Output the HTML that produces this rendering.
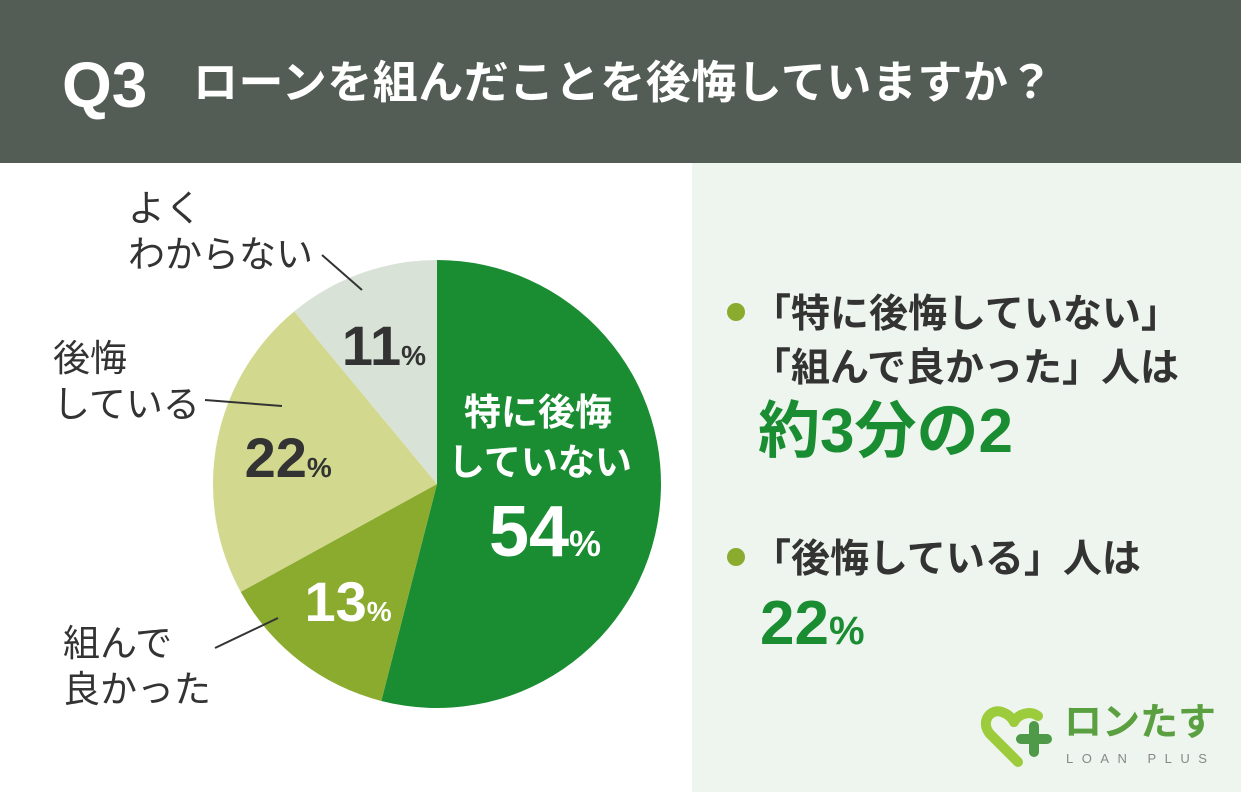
<!DOCTYPE html>
<html><head><meta charset="utf-8">
<style>
body{margin:0;width:1241px;height:792px;position:relative;overflow:hidden;background:#fff;font-family:"Liberation Sans","Noto Sans CJK JP",sans-serif;}
.abs{position:absolute;white-space:nowrap;}
</style></head><body>
<div class="abs" style="left:0;top:0;width:1241px;height:163px;background:#535d55;"></div>
<div class="abs" style="left:62px;top:48px;font-size:64px;font-weight:bold;color:#fff;line-height:74px;">Q3</div>
<div class="abs" style="left:193px;top:54px;font-size:45px;font-weight:bold;color:#fff;line-height:58px;letter-spacing:0.5px;">ローンを組んだことを後悔していますか？</div>
<div class="abs" style="left:692px;top:163px;width:549px;height:629px;background:#eef5ee;"></div>

<svg class="abs" style="left:0;top:0" width="1241" height="792">
<g id="pie"></g>
<g stroke="#333" stroke-width="2">
<line x1="322" y1="255" x2="362" y2="290"/>
<line x1="205" y1="400" x2="282" y2="406"/>
<line x1="215" y1="648" x2="278" y2="618"/>
</g>
</svg>

<div class="abs" style="left:128px;top:186px;font-size:37px;color:#333;line-height:46px;">よく<br>わからない</div>
<div class="abs" style="left:53px;top:336px;font-size:37px;color:#333;line-height:46px;">後悔<br>している</div>
<div class="abs" style="left:63px;top:621px;font-size:37px;color:#333;line-height:46px;">組んで<br>良かった</div>
<div class="abs" style="left:448px;top:388px;width:180px;font-size:37px;font-weight:bold;color:#fff;line-height:50px;text-align:center;">特に後悔<br>していない</div>
<div id="pcts"></div>

<div class="abs" style="left:727px;top:303px;width:18px;height:18px;border-radius:50%;background:#8aab2e;"></div>
<div class="abs" style="left:752px;top:288px;font-size:39px;font-weight:bold;color:#333;line-height:54px;">「特に後悔していない」<br>「組んで良かった」人は</div>
<div class="abs" style="left:758px;top:396px;font-size:62px;font-weight:bold;color:#1a8c32;line-height:72px;">約3分の2</div>
<div class="abs" style="left:727px;top:548px;width:18px;height:18px;border-radius:50%;background:#8aab2e;"></div>
<div class="abs" style="left:752px;top:533px;font-size:39px;font-weight:bold;color:#333;line-height:54px;">「後悔している」人は</div>
<div class="abs" style="left:760px;top:588px;font-size:62px;font-weight:bold;color:#1a8c32;line-height:72px;">22<span style="font-size:40px">%</span></div>

<svg class="abs" style="left:978px;top:702px" width="80" height="70" viewBox="0 0 80 70">
<path d="M40 60 L12 32 C2 20 12 6 24 10 C30 12 34 16 36 20" fill="none" stroke="#9ccc3c" stroke-width="10" stroke-linecap="round"/>
<path d="M36 20 C40 12 52 8 60 14" fill="none" stroke="#9ccc3c" stroke-width="10" stroke-linecap="round"/>
<path d="M56 24 v26 M43 37 h26" stroke="#4e9a48" stroke-width="10" stroke-linecap="round"/>
</svg>
<div class="abs" style="left:1064px;top:700px;font-size:38px;font-weight:bold;color:#5aa040;line-height:46px;">ロンたす</div>
<div class="abs" style="left:1066px;top:751px;font-size:13px;color:#888;letter-spacing:8.5px;">LOAN PLUS</div>

<script>
const categories = ["特に後悔していない","組んで良かった","後悔している","よくわからない"];
const values = [54, 13, 22, 11];
const colors = ["#1a8c32","#8aab2e","#d2d98f","#d8e2d6"];
const textColors = ["#fff","#fff","#333","#333"];
const cx=437, cy=484, r=224;
const total = values.reduce((a,b)=>a+b,0);
const g=document.getElementById('pie');
const pcts=document.getElementById('pcts');
const ns="http://www.w3.org/2000/svg";
const labelR=[0.62,0.56,0.64,0.62];
const labelShift=[[0,0],[-12,18],[-8,0],[-6,-8]];
const pctSize=[72,56,56,56];
let a0=0;
values.forEach((v,i)=>{
  const a1=a0+v/total*2*Math.PI;
  const x0=cx+r*Math.sin(a0), y0=cy-r*Math.cos(a0);
  const x1=cx+r*Math.sin(a1), y1=cy-r*Math.cos(a1);
  const p=document.createElementNS(ns,'path');
  p.setAttribute('d',`M${cx},${cy} L${x0},${y0} A${r},${r} 0 ${a1-a0>Math.PI?1:0} 1 ${x1},${y1} Z`);
  p.setAttribute('fill',colors[i]);
  
  
  g.appendChild(p);
  const am=(a0+a1)/2;
  let lx=cx+r*labelR[i]*Math.sin(am)+labelShift[i][0], ly=cy-r*labelR[i]*Math.cos(am)+labelShift[i][1];
  if(i===0){lx=545;ly=532;}
  const d=document.createElement('div');
  d.className='abs';
  
  
  d.style.cssText=`left:${lx-90}px;top:${ly-pctSize[i]*0.6}px;width:180px;text-align:center;font-weight:bold;color:${textColors[i]};font-size:${pctSize[i]}px;line-height:${pctSize[i]*1.2}px;`;
  d.innerHTML=v+'<span style="font-size:'+Math.round(pctSize[i]*0.5)+'px">%</span>';
  pcts.appendChild(d);
  a0=a1;
});
</script>
</body></html>
